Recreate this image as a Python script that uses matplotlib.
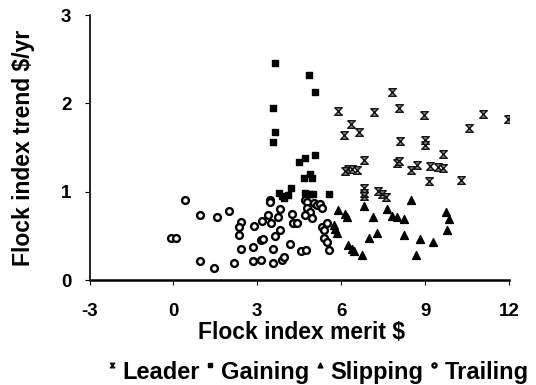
import numpy as np
import matplotlib
matplotlib.use("Agg")
import matplotlib.pyplot as plt
from matplotlib.path import Path

# values: (merit $, trend $/yr)
leader_x = [7.81, 5.87, 7.19, 8.05, 8.96, 6.35, 6.11, 6.62, 11.06, 11.98, 10.58, 8.11,
            9.00, 9.00, 9.63, 6.83, 6.26, 6.38, 6.56, 6.14, 7.99, 8.05, 8.49, 8.70,
            9.18, 9.47, 9.65, 9.15, 10.29, 6.80, 6.80, 6.80, 7.33, 7.45, 7.61]
leader_y = [2.13, 1.91, 1.90, 1.95, 1.87, 1.77, 1.64, 1.67, 1.88, 1.82, 1.72, 1.57,
            1.59, 1.53, 1.43, 1.36, 1.26, 1.26, 1.25, 1.23, 1.32, 1.35, 1.25, 1.30,
            1.29, 1.28, 1.27, 1.12, 1.13, 1.04, 0.98, 0.95, 1.01, 0.97, 0.94]

gaining_x = [3.62, 4.86, 5.07, 3.56, 3.62, 3.56, 5.05, 4.69, 4.48, 4.89, 4.97, 4.66,
             4.20, 3.76, 3.88, 4.08, 4.70, 4.87, 4.99, 5.57, 3.94]
gaining_y = [2.46, 2.32, 2.13, 1.95, 1.67, 1.56, 1.41, 1.38, 1.34, 1.20, 1.16, 1.15,
             1.04, 0.98, 0.95, 0.96, 0.98, 0.97, 0.97, 0.97, 0.93]

slipping_x = [5.90, 6.14, 6.20, 6.80, 7.13, 7.63, 7.81, 7.99, 8.23, 8.49, 9.75, 9.87,
              9.80, 7.27, 7.01, 8.23, 8.82, 9.30, 6.26, 6.38, 6.46, 6.76, 8.68, 5.75,
              5.79, 5.85]
slipping_y = [0.79, 0.75, 0.71, 0.84, 0.71, 0.80, 0.73, 0.71, 0.69, 0.91, 0.77, 0.69,
              0.57, 0.53, 0.48, 0.51, 0.46, 0.43, 0.40, 0.35, 0.33, 0.28, 0.28, 0.62,
              0.58, 0.53]

trailing_x = [-0.10, 0.08, 0.43, 0.96, 1.56, 1.98, 0.96, 1.46, 2.15, 2.42, 2.36, 2.33,
              2.43, 2.85, 2.83, 3.14, 2.89, 3.17, 3.14, 3.20, 3.44, 3.44, 3.37, 3.50,
              3.80, 3.74, 3.82, 3.64, 3.55, 3.56, 3.88, 3.94, 4.18, 4.24, 4.26, 4.42,
              4.56, 4.75, 4.71, 4.78, 4.79, 4.87, 5.01, 5.15, 5.25, 5.31, 4.71, 4.95,
              5.31, 5.37, 5.51, 5.37, 5.49, 5.55]
trailing_y = [0.47, 0.47, 0.91, 0.74, 0.71, 0.78, 0.21, 0.14, 0.19, 0.66, 0.60, 0.51,
              0.35, 0.37, 0.22, 0.23, 0.61, 0.67, 0.45, 0.46, 0.91, 0.88, 0.74, 0.64,
              0.80, 0.71, 0.57, 0.50, 0.35, 0.19, 0.23, 0.26, 0.41, 0.75, 0.65, 0.64,
              0.33, 0.34, 0.91, 0.88, 0.81, 0.77, 0.87, 0.85, 0.86, 0.81, 0.74, 0.70,
              0.60, 0.57, 0.64, 0.47, 0.43, 0.34]

x_ticks = [-3, 0, 3, 6, 9, 12]
y_ticks = [0, 1, 2, 3]

plt.rcParams['font.family'] = ['Liberation Sans', 'DejaVu Sans']
plt.rcParams['font.weight'] = 'bold'
plt.rcParams['axes.unicode_minus'] = False

# hourglass-like marker for the leaders
hourglass = Path([(-1, 1), (1, 1), (-1, -1), (1, -1), (-1, 1)],
                 [Path.MOVETO, Path.LINETO, Path.LINETO, Path.LINETO, Path.LINETO])

fig = plt.figure(figsize=(5.36, 3.85), dpi=100)
ax = fig.add_axes([0.167, 0.2727, 0.7826, 0.6883])

ax.scatter(leader_x, leader_y, marker=hourglass, s=30, facecolor='#909090',
           edgecolor='#151515', linewidth=1.0, label='Leader', zorder=3)
ax.scatter(gaining_x, gaining_y, marker='s', s=22, color='black', label='Gaining', zorder=3)
ax.scatter(slipping_x, slipping_y, marker='^', s=32, color='black', label='Slipping', zorder=3)
ax.scatter(trailing_x, trailing_y, marker='o', s=24, facecolor='white',
           edgecolor='black', linewidth=1.7, label='Trailing', zorder=3)

ax.set_xlim(-3, 12)
ax.set_ylim(0, 3)
ax.set_xticks(x_ticks)
ax.set_yticks(y_ticks)
ax.tick_params(direction='out', length=3.6, width=0.8, labelsize=13.5)
ax.tick_params(axis='x', pad=13)
ax.tick_params(axis='y', pad=9.5)
for lbl in ax.get_xticklabels() + ax.get_yticklabels():
    lbl.set_fontweight('bold')
for s in ['top', 'right']:
    ax.spines[s].set_visible(False)
ax.spines['left'].set_linewidth(1.2)
ax.spines['bottom'].set_linewidth(1.8)
ax.set_xlabel('Flock index merit $', fontsize=16.5, fontweight='bold')
ax.set_ylabel('Flock index trend $/yr', fontsize=16.5, fontweight='bold')
ax.xaxis.set_label_coords(0.505, -0.153)
ax.yaxis.set_label_coords(-0.131, 0.5)

fig.legend(loc='center', bbox_to_anchor=(0.594, 0.033), ncol=4, frameon=False,
           prop={'size': 17, 'weight': 'bold'}, markerscale=0.6, handletextpad=0.3,
           columnspacing=0.3, handlelength=0.3, borderpad=0, scatteryoffsets=[0.85])

fig.savefig('out.png', dpi=100)
